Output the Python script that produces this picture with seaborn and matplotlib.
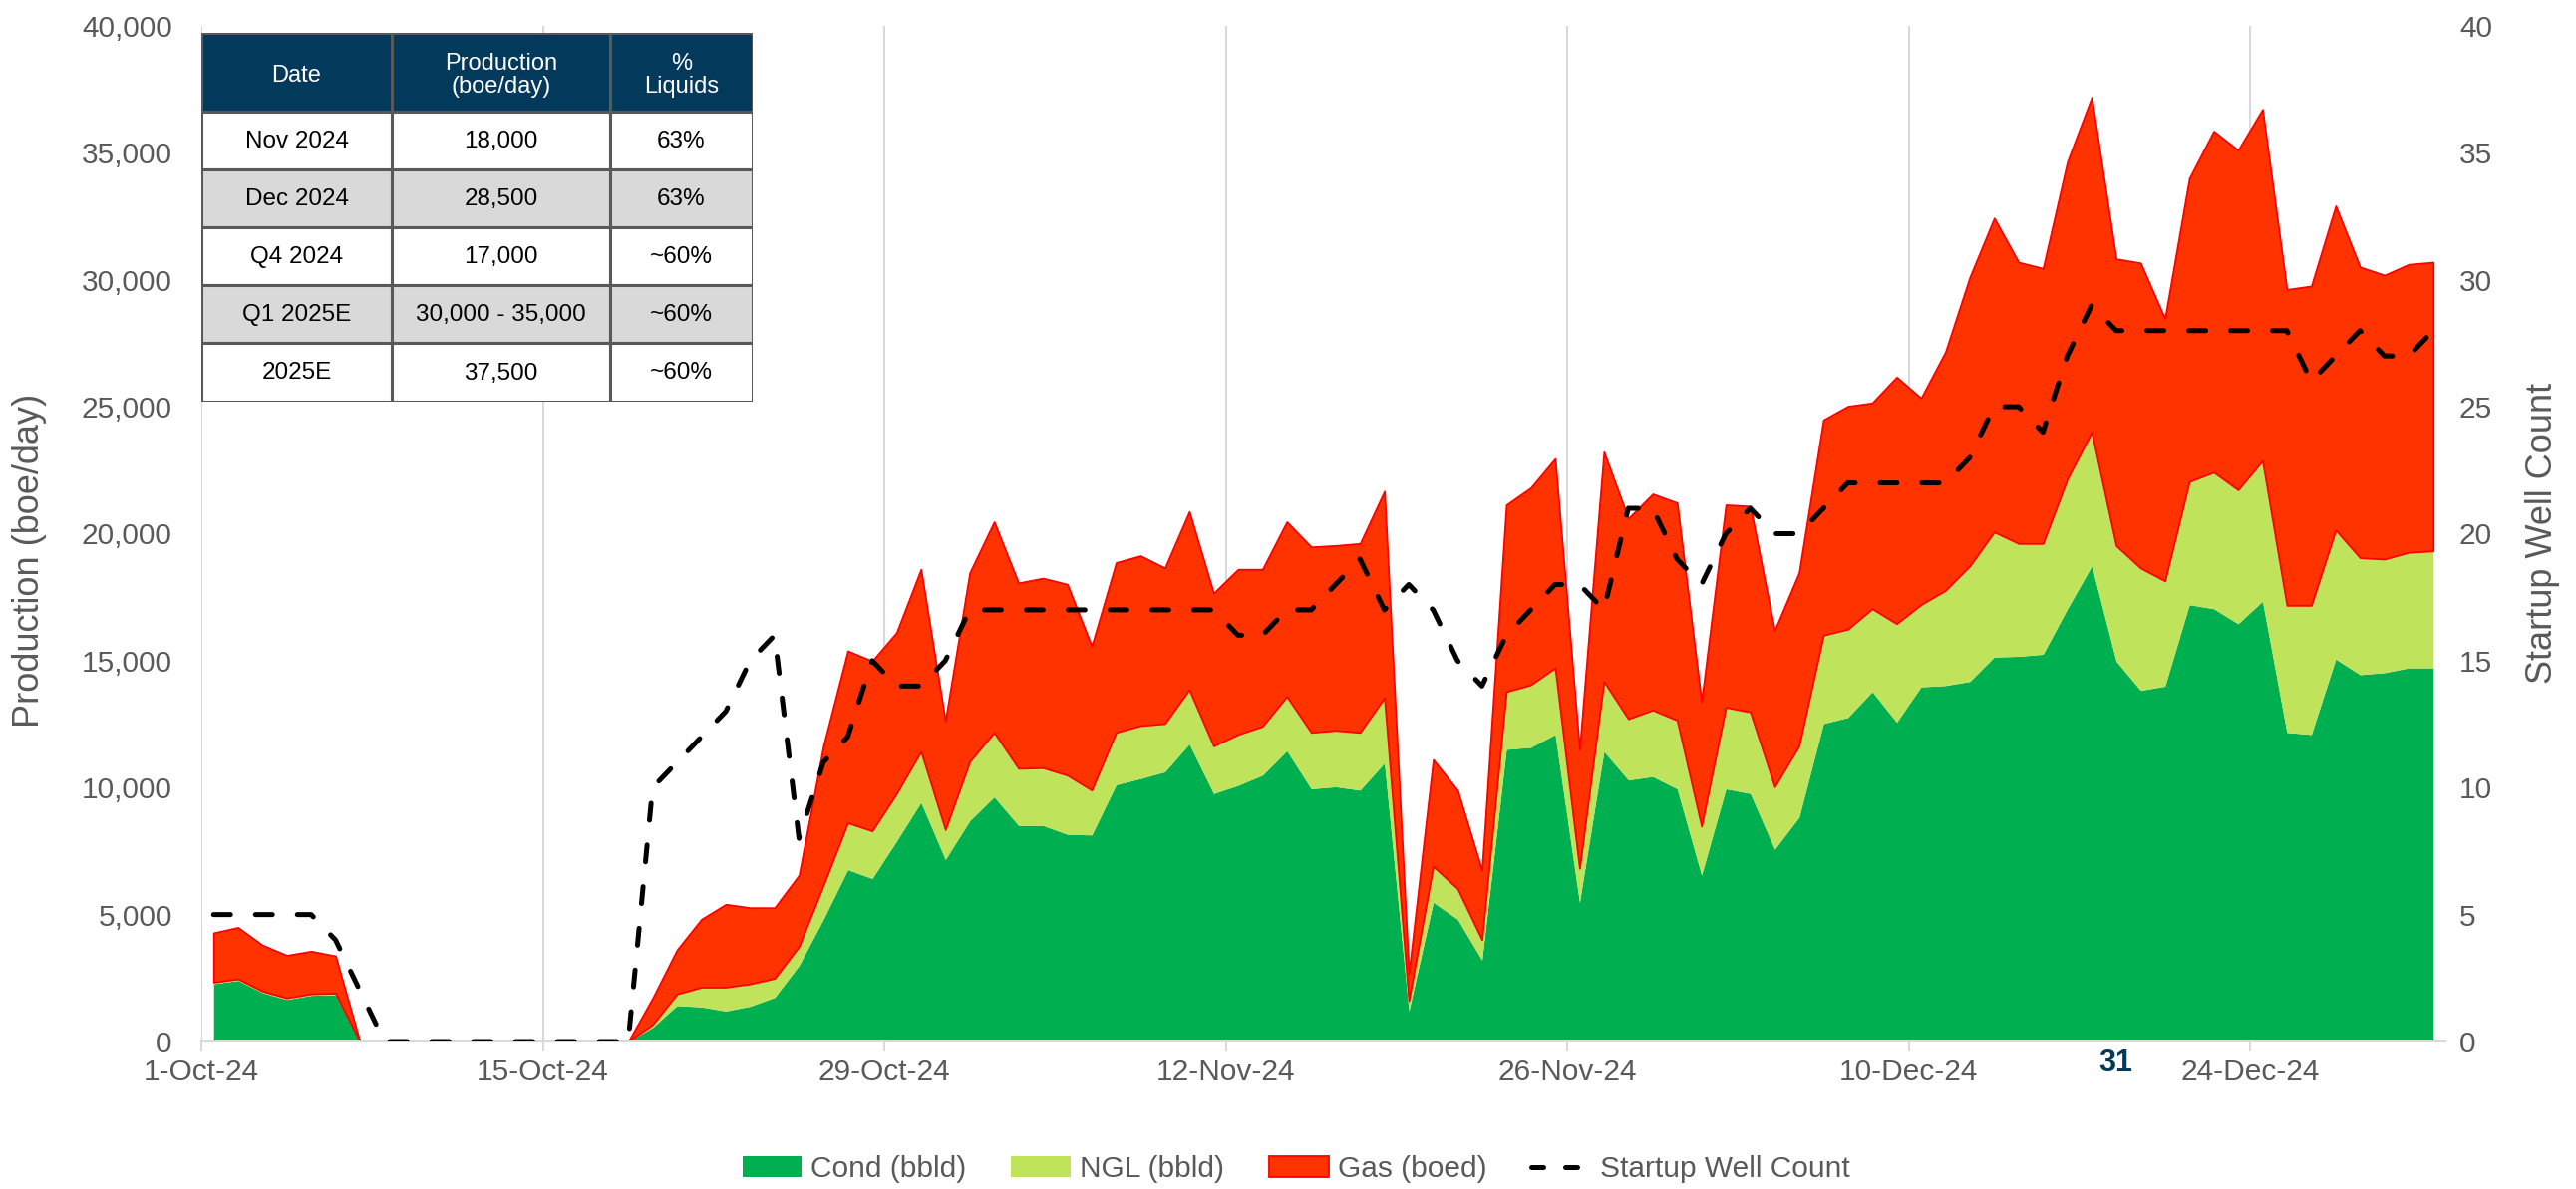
import numpy as np
import pandas as pd
import matplotlib
matplotlib.use("Agg")
import matplotlib.pyplot as plt
from matplotlib.patches import Rectangle, Patch
from matplotlib.lines import Line2D
import seaborn as sns

# ---------------- data ----------------
start_date = "2024-10-01"
n_days = 92

cond = [2275, 2408, 1927, 1659, 1820, 1846, 0, 0, 0, 0, 0, 0, 0, 0, 0, 0, 0, 0,
        560, 1418, 1365, 1204, 1392, 1739, 2997, 4817, 6770, 6422, 7894, 9420,
        7172, 8697, 9634, 8510, 8510, 8162, 8135, 10115, 10356, 10624, 11721,
        9767, 10088, 10490, 11453, 9954, 10035, 9901, 10972, 1204, 5486, 4817,
        3211, 11507, 11587, 12096, 5486, 11427, 10303, 10436, 9954, 6556, 9954,
        9767, 7573, 8831, 12524, 12765, 13781, 12577, 13969, 14022, 14183, 15146,
        15172, 15253, 17046, 18732, 14986, 13835, 13995, 17207, 17046, 16457,
        17341, 12176, 12096, 15066, 14450, 14531, 14718, 14718]

ngl = [60, 60, 60, 60, 60, 60, 0, 0, 0, 0, 0, 0, 0, 0, 0, 0, 0, 0,
       110, 455, 776, 937, 883, 750, 749, 1338, 1847, 1874, 1873, 2007,
       1177, 2328, 2542, 2248, 2274, 2328, 1766, 2061, 2087, 1900, 2141,
       1874, 2008, 1926, 2141, 2222, 2221, 2275, 2569, 402, 1418, 1204,
       803, 2274, 2462, 2622, 1338, 2756, 2408, 2623, 2703, 1927, 3212,
       3212, 2462, 2810, 3479, 3478, 3265, 3880, 3238, 3747, 4549, 4924,
       4443, 4362, 5111, 5272, 4549, 4817, 4148, 4843, 5379, 5272,
       5539, 5004, 5084, 5084, 4603, 4469, 4550, 4603]

gas = [1947, 2028, 1813, 1679, 1679, 1466, 0, 0, 0, 0, 0, 0, 0, 0, 0, 0, 0, 0,
       1043, 1740, 2676, 3265, 2997, 2783, 2810, 5486, 6770, 6690, 6343, 7171,
       4282, 7439, 8295, 7305, 7466, 7519, 5673, 6689, 6690, 6128, 7011,
       6021, 6502, 6182, 6877, 7305, 7279, 7439, 8135, 1070, 4201, 3880,
       2730, 7359, 7760, 8242, 4683, 9045, 7894, 8509, 8563, 4897, 7974,
       8108, 6155, 6823, 8482, 8778, 8108, 9714, 8135, 9392, 11373, 12363,
       11079, 10838, 12496, 13192, 11293, 12015, 10330, 11950, 13433, 13380,
       13834, 12443, 12577, 12765, 11453, 11185, 11345, 11373]

wells = [5, 5, 5, 5, 5, 4, 2, 0, 0, 0, 0, 0, 0, 0, 0, 0, 0, 0,
         10, 11, 12, 13, 15, 16, 8, 11, 12, 15, 14, 14,
         15, 17, 17, 17, 17, 17, 17, 17, 17, 17, 17,
         17, 16, 16, 17, 17, 18, 19, 17, 18, 17, 15,
         14, 16, 17, 18, 18, 17, 21, 21, 19, 18, 20,
         21, 20, 20, 21, 22, 22, 22, 22, 22, 23, 25,
         25, 24, 27, 29, 28, 28, 28, 28, 28, 28,
         28, 28, 26, 27, 28, 27, 27, 28]

series_names = ["Cond (bbld)", "NGL (bbld)", "Gas (boed)", "Startup Well Count"]
xtick_dates = ["2024-10-01", "2024-10-15", "2024-10-29", "2024-11-12",
               "2024-11-26", "2024-12-10", "2024-12-24"]
xtick_labels = ["1-Oct-24", "15-Oct-24", "29-Oct-24", "12-Nov-24",
                "26-Nov-24", "10-Dec-24", "24-Dec-24"]
left_ticks = [0, 5000, 10000, 15000, 20000, 25000, 30000, 35000, 40000]
right_ticks = [0, 5, 10, 15, 20, 25, 30, 35, 40]

table_header = ["Date", "Production\n(boe/day)", "%\nLiquids"]
table_dates = ["Nov 2024", "Dec 2024", "Q4 2024", "Q1 2025E", "2025E"]
table_prod = ["18,000", "28,500", "17,000", "30,000 - 35,000", "37,500"]
table_liq = ["63%", "63%", "~60%", "~60%", "~60%"]
stray_label = "31"

# ---------------- style ----------------
sns.set_theme(style="white")
plt.rcParams["font.family"] = ["Liberation Sans", "DejaVu Sans"]

C_COND = "#00B050"
C_NGL = "#BFE35B"
C_GAS = "#FF3300"
C_GAS_EDGE = "#FF0000"
C_TXT = "#595959"
C_GRID = "#D9D9D9"
C_NAVY = "#033A5C"
TICK_FS = 21.5
LABEL_FS = 26

W, H = 2584, 1193
fig = plt.figure(figsize=(W / 100, H / 100), dpi=100)

ax_l, ax_r, ax_b, ax_t = 202, 2453, 1045, 26
ax = fig.add_axes([ax_l / W, 1 - ax_b / H, (ax_r - ax_l) / W, (ax_b - ax_t) / H])

dates = pd.date_range(start_date, periods=n_days, freq="D")
xmid = dates + pd.Timedelta(hours=12)

polys = ax.stackplot(xmid, cond, ngl, gas, colors=[C_COND, C_NGL, C_GAS],
                     linewidth=0, zorder=2)
polys[2].set_edgecolor(C_GAS_EDGE)
polys[2].set_linewidth(1.3)

ax.set_xlim(pd.Timestamp("2024-10-01"), pd.Timestamp("2025-01-01"))
ax.set_ylim(0, 40000)
ax.set_yticks(left_ticks)
ax.set_yticklabels([f"{v:,}" for v in left_ticks])
ax.set_xticks([pd.Timestamp(d) for d in xtick_dates])
ax.set_xticklabels(xtick_labels)

ax.set_axisbelow(True)
ax.grid(axis="x", color=C_GRID, linewidth=1.5)
ax.grid(axis="y", visible=False)
for s in ["top", "right", "left"]:
    ax.spines[s].set_visible(False)
ax.spines["bottom"].set_color(C_GRID)
ax.spines["bottom"].set_linewidth(1.5)
ax.tick_params(axis="x", length=7, width=1.5, color=C_GRID, pad=5,
               labelsize=TICK_FS, labelcolor=C_TXT, bottom=True)
ax.tick_params(axis="y", length=0, pad=21, labelsize=TICK_FS, labelcolor=C_TXT)
ax.set_ylabel("Production (boe/day)", fontsize=LABEL_FS, color=C_TXT)
ax.yaxis.label.set_verticalalignment("center")
ax.yaxis.set_label_coords((30 - ax_l) / (ax_r - ax_l), (ax_b - 562) / (ax_b - ax_t))

# secondary axis with well count
ax2 = ax.twinx()
sns.lineplot(x=xmid, y=wells, ax=ax2, color="black", linewidth=3.6,
             linestyle="--", zorder=5)
ln = ax2.get_lines()[0]
ln.set_dashes([3.4, 5.0])
ln.set_dash_capstyle("round")
ax2.set_ylim(0, 40)
ax2.set_yticks(right_ticks)
ax2.set_yticklabels([str(v) for v in right_ticks])
ax2.set_xlim(pd.Timestamp("2024-10-01"), pd.Timestamp("2025-01-01"))
for s in ["top", "right", "left", "bottom"]:
    ax2.spines[s].set_visible(False)
ax2.grid(False)
ax2.tick_params(axis="y", length=0, pad=10, labelsize=TICK_FS, labelcolor=C_TXT, right=True)
ax2.set_ylabel("Startup Well Count", fontsize=LABEL_FS, color=C_TXT)
ax2.yaxis.label.set_verticalalignment("center")
ax2.yaxis.set_label_coords((2551 - ax_l) / (ax_r - ax_l), (ax_b - 535) / (ax_b - ax_t))

# stray label below axis
fig.text(2122 / W, 1 - 1067 / H, stray_label, ha="center", va="center",
         fontsize=22, fontweight="bold", color=C_NAVY)

# legend
handles = [
    Patch(facecolor=C_COND, edgecolor="none"),
    Patch(facecolor=C_NGL, edgecolor="none"),
    Patch(facecolor=C_GAS, edgecolor=C_GAS_EDGE, linewidth=1.3),
    Line2D([0], [0], color="black", linewidth=3.6, dashes=[2.4, 4.4],
           dash_capstyle="round"),
]
leg = fig.legend(handles, series_names, loc="center", ncol=4,
                 bbox_to_anchor=(1300 / W, 1 - 1173 / H), frameon=False,
                 fontsize=TICK_FS, handlelength=2.0, handleheight=0.7,
                 handletextpad=0.3, columnspacing=1.5)
for t in leg.get_texts():
    t.set_color(C_TXT)

# table
t_l, t_r, t_t, t_b = 202, 755, 33, 403
tax = fig.add_axes([t_l / W, 1 - t_b / H, (t_r - t_l) / W, (t_b - t_t) / H])
tax.set_zorder(10)
tax.set_xlim(0, t_r - t_l)
tax.set_ylim(t_b - t_t, 0)
tax.axis("off")
col_x = [0, 191, 410, 553]
row_y = [0, 79, 137, 195, 253, 311, 370]
row_colors = ["white", "#D9D9D9", "white", "#D9D9D9", "white"]
BORDER = "#595959"
for c in range(3):
    tax.add_patch(Rectangle((col_x[c], row_y[0]), col_x[c + 1] - col_x[c],
                            row_y[1] - row_y[0], facecolor=C_NAVY,
                            edgecolor=BORDER, linewidth=2.2))
    tax.text((col_x[c] + col_x[c + 1]) / 2, (row_y[0] + row_y[1]) / 2 + 3,
             table_header[c], ha="center", va="center", color="white",
             fontsize=17, linespacing=1.1)
rows = list(zip(table_dates, table_prod, table_liq))
for r, vals in enumerate(rows):
    for c in range(3):
        tax.add_patch(Rectangle((col_x[c], row_y[r + 1]), col_x[c + 1] - col_x[c],
                                row_y[r + 2] - row_y[r + 1],
                                facecolor=row_colors[r], edgecolor=BORDER,
                                linewidth=2.2))
        tax.text((col_x[c] + col_x[c + 1]) / 2, (row_y[r + 1] + row_y[r + 2]) / 2 + 1,
                 vals[c], ha="center", va="center", color="black", fontsize=17.5)

fig.savefig("out.png", dpi=100)
